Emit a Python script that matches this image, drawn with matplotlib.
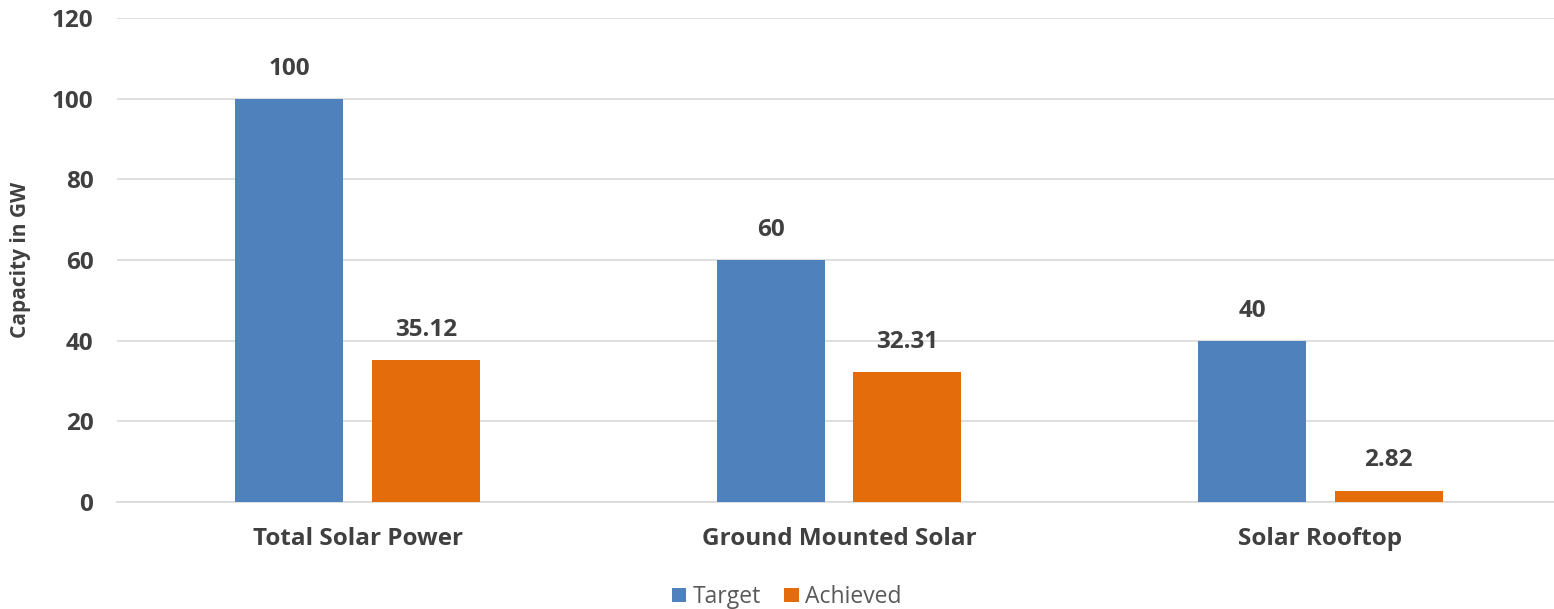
import numpy as np
import matplotlib.pyplot as plt

categories = ["Total Solar Power", "Ground Mounted Solar", "Solar Rooftop"]
target = [100, 60, 40]
achieved = [35.12, 32.31, 2.82]
target_labels = ["100", "60", "40"]
achieved_labels = ["35.12", "32.31", "2.82"]

plt.rcParams['font.family'] = ['Open Sans', 'DejaVu Sans']

fig = plt.figure(figsize=(15.54, 6.09), dpi=100)
ax = fig.add_axes([117 / 1554, 0.1757, 1444 / 1554, 0.7947])

x = np.arange(len(categories))
w = 0.224
off = 0.142
blue = "#4F81BD"
orange = "#E46C0A"
text_col = "#404040"
fs = 17.5

b1 = ax.bar(x - off, target, w, color=blue, label="Target", zorder=3)
b2 = ax.bar(x + off, achieved, w, color=orange, label="Achieved", zorder=3)

# value labels above each bar
for rect, lab in zip(b1, target_labels):
    ax.text(rect.get_x() + rect.get_width() / 2, rect.get_height() + 4.5, lab,
            ha="center", va="bottom", fontsize=fs, fontweight="bold", color=text_col)
for rect, lab in zip(b2, achieved_labels):
    ax.text(rect.get_x() + rect.get_width() / 2, rect.get_height() + 4.5, lab,
            ha="center", va="bottom", fontsize=fs, fontweight="bold", color=text_col)

ax.set_xlim(-0.5, 2.5)
ax.set_ylim(0, 120)
ax.set_yticks(range(0, 121, 20))
ax.set_xticks(x)
ax.set_xticklabels(categories, fontsize=fs, fontweight="bold", color=text_col)
ax.tick_params(axis="y", labelsize=fs, labelcolor=text_col, length=0, pad=17)
ax.tick_params(axis="x", length=0, pad=18)
for lab in ax.get_yticklabels():
    lab.set_fontweight("bold")

ax.grid(axis="y", color="#D9D9D9", linewidth=1.2, zorder=0)
for s in ["top", "right", "left"]:
    ax.spines[s].set_visible(False)
ax.spines["bottom"].set_color("#D9D9D9")
ax.spines["bottom"].set_linewidth(1.2)

ax.set_ylabel("Capacity in GW", fontsize=15, fontweight="bold", color=text_col)
ax.yaxis.set_label_coords(-0.0596, 0.5)

fig.legend(handles=[b1, b2], labels=["Target", "Achieved"], loc="center",
           bbox_to_anchor=(787 / 1554, 1 - 597 / 609), ncol=2, frameon=False,
           fontsize=16.5, labelcolor="#595959", handlelength=0.62, handleheight=0.62,
           handletextpad=0.3, columnspacing=1.0)

fig.savefig("out.png", dpi=100)
